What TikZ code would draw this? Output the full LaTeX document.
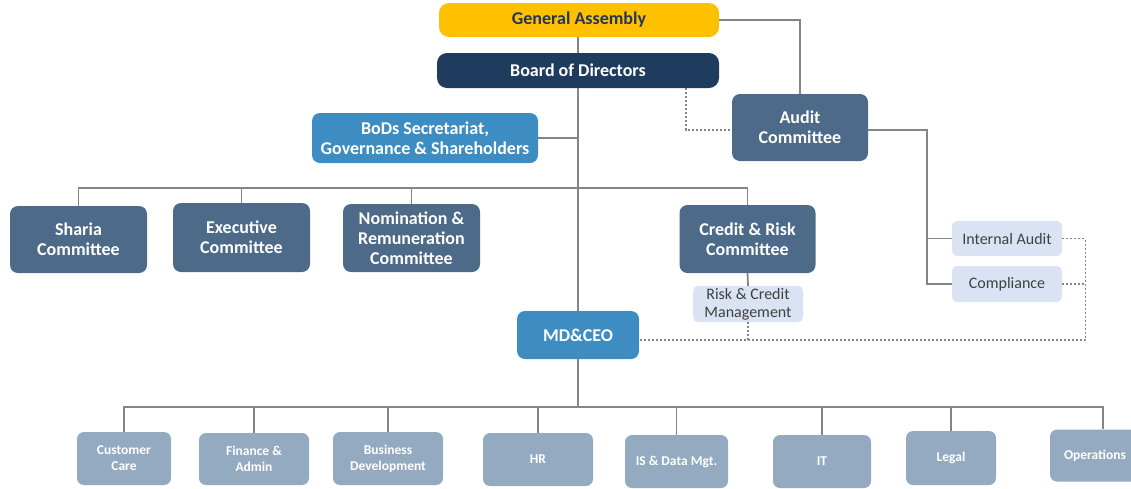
\documentclass[tikz,border=0pt]{standalone}
\usepackage{fontspec}
\setmainfont{Carlito}
\usetikzlibrary{calc}
\definecolor{gagold}{HTML}{FFC000}
\definecolor{navy}{HTML}{1F3C5F}
\definecolor{navytext}{HTML}{22365A}
\definecolor{steel}{HTML}{4D6B88}
\definecolor{midblue}{HTML}{3D8DC3}
\definecolor{greyblue}{HTML}{94AAC0}
\definecolor{lav}{HTML}{DAE3F3}
\definecolor{txtgrey}{HTML}{404040}
\definecolor{linegrey}{HTML}{858585}
\tikzset{
  base/.style={inner sep=0pt, align=center, text=white},
  topbox/.style={base, rounded corners=10pt, font=\bfseries\fontsize{18}{20}\selectfont},
  combox/.style={base, fill=steel, rounded corners=8pt, font=\bfseries\fontsize{18}{20}\selectfont},
  bluebox/.style={base, fill=midblue, rounded corners=8pt, font=\bfseries\fontsize{18}{20}\selectfont},
  deptbox/.style={base, fill=greyblue, rounded corners=7pt, font=\bfseries\fontsize{13.5}{16}\selectfont},
  lightbox/.style={base, fill=lav, text=txtgrey, rounded corners=5pt, font=\fontsize{16}{18}\selectfont},
  link/.style={draw=linegrey, line width=1.8pt},
  dlink/.style={draw=linegrey, line width=1.1pt, dash pattern=on 2.2pt off 1.8pt}
}
\begin{document}
\begin{tikzpicture}[x=1pt,y=-1pt]
\useasboundingbox (0,0) rectangle (1131,488);
% top
\node[topbox, fill=gagold, text=navytext, minimum width=280, minimum height=34] (ga) at (579,20) {General Assembly};
\node[topbox, fill=navy, minimum width=282, minimum height=35] (bod) at (578,70.5) {Board of Directors};
\node[bluebox, minimum width=226, minimum height=50] (sec) at (425,138) {BoDs Secretariat,\\Governance \& Shareholders};
\node[combox, minimum width=136, minimum height=67] (audit) at (800,127.5) {Audit\\Committee};
% committees
\node[combox, minimum width=137, minimum height=67] (sharia) at (78.5,239.5) {Sharia\\Committee};
\node[combox, minimum width=137, minimum height=69] (exec) at (241.5,237.5) {Executive\\Committee};
\node[combox, minimum width=137, minimum height=68] (nom) at (411.5,238) {Nomination \&\\Remuneration\\Committee};
\node[combox, minimum width=136, minimum height=68] (crc) at (747.5,239) {Credit \& Risk\\Committee};
\node[lightbox, minimum width=110, minimum height=36] (rcm) at (748,304) {Risk \& Credit\\Management};
\node[lightbox, minimum width=110, minimum height=35] (ia) at (1007,238.5) {Internal Audit};
\node[lightbox, minimum width=110, minimum height=36] (comp) at (1007,284) {Compliance};
\node[bluebox, minimum width=122, minimum height=48] (md) at (578,335) {MD\&CEO};
% departments
\node[deptbox, minimum width=94, minimum height=53] (cc) at (124,458.5) {Customer\\Care};
\node[deptbox, minimum width=110, minimum height=52] (fa) at (254,459) {Finance \&\\Admin};
\node[deptbox, minimum width=110, minimum height=53] (bd) at (388,458.5) {Business\\Development};
\node[deptbox, minimum width=110, minimum height=53] (hr) at (538,459.5) {HR};
\node[deptbox, minimum width=103, minimum height=53] (is) at (676.5,461.5) {IS \& Data Mgt.};
\node[deptbox, minimum width=98, minimum height=53] (it) at (822,461.5) {IT};
\node[deptbox, minimum width=90, minimum height=54] (legal) at (951,458) {Legal};
\node[deptbox, minimum width=90, minimum height=52] (ops) at (1095,455.5) {Operations};
% coordinates
\coordinate (cbus) at (578,188);
\coordinate (dbus) at (578,407);
\coordinate (mdd) at ([yshift=-5pt]md.east);
% solid links
\draw[link] (ga.south -| bod.south) -- (bod.north);
\draw[link] (ga.east) -| (audit.north);
\draw[link] (bod.south) -- (md.north);
\draw[link] (sec.east) -- (sec.east -| bod.south);
\draw[link] (sharia.north) |- (cbus);
\draw[link] (exec.north) |- (cbus);
\draw[link] (nom.north) |- (cbus);
\draw[link] (crc.north) |- (cbus);
\draw[link] (crc.south) -- (rcm.north);
\draw[link] ([yshift=-2.5pt]audit.east) -| ($(comp.west)+(-25,0)$) -- (comp.west);
\draw[link] (ia.west) -- ++(-25,0);
\draw[link] (md.south) -- (dbus);
\draw[link] (cc.north) |- (dbus);
\draw[link] (fa.north) |- (dbus);
\draw[link] (bd.north) |- (dbus);
\draw[link] (hr.north) |- (dbus);
\draw[link] (is.north) |- (dbus);
\draw[link] (it.north) |- (dbus);
\draw[link] (legal.north) |- (dbus);
\draw[link] ([xshift=8pt]ops.north) |- (dbus);
% dashed links
\draw[dlink] ([xshift=108pt]bod.south) |- ([yshift=-2.5pt]audit.west);
\draw[dlink] (ia.east) -- ++(23,0) |- (mdd);
\draw[dlink] (comp.east) -- ++(23,0);
\draw[dlink] (rcm.south) -- (rcm.south |- mdd);
\end{tikzpicture}
\end{document}
